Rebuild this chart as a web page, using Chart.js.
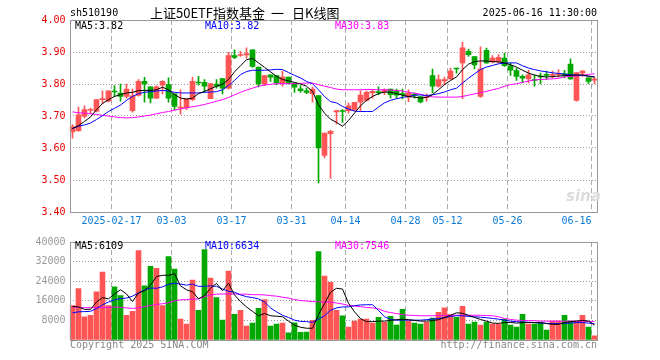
<!DOCTYPE html>
<html>
<head>
<meta charset="utf-8">
<script src="https://cdn.jsdelivr.net/npm/chart.js@4"></script>
<style>
  body { margin: 0; background: #fff; }
  #wrap { position: relative; width: 660px; height: 360px; overflow: hidden; }
  canvas { position: absolute; left: 0; }
  .lbl { position: absolute; font: 10px 'DejaVu Sans Mono', monospace; line-height: 12px; white-space: pre; }
  .cn { position: absolute; font: 13px 'Noto Sans CJK SC'; line-height: 16px; top: 5px; color: #000; white-space: pre; }
</style>
</head>
<body>
<div id="wrap">
  <canvas id="price" width="660" height="232" style="top:0"></canvas>
  <canvas id="vol" width="660" height="128" style="top:232px"></canvas>

  <div class="lbl" style="left:70px;top:7px;color:#000">sh510190</div>
  <div class="cn" style="left:150px">上证50ETF指数基金</div>
  <div class="cn" style="left:271px">一</div>
  <div class="cn" style="left:292px">日K线图</div>
  <div class="lbl" style="right:63px;top:7px;color:#000">2025-06-16 11:30:00</div>

  <div class="lbl" style="left:75px;top:20px;color:#000">MA5:3.82</div>
  <div class="lbl" style="left:205px;top:20px;color:#0000ff">MA10:3.82</div>
  <div class="lbl" style="left:335px;top:20px;color:#ff00ff">MA30:3.83</div>

  <div class="lbl" style="left:566px;top:188px;font:italic bold 15px 'DejaVu Sans';line-height:16px;color:#dcdcdc">sina</div>

  <div class="lbl" style="left:75px;top:240px;color:#000">MA5:6109</div>
  <div class="lbl" style="left:205px;top:240px;color:#0000ff">MA10:6634</div>
  <div class="lbl" style="left:335px;top:240px;color:#ff00ff">MA30:7546</div>

  <div class="lbl" style="left:70px;top:339px;color:#888">Copyright 2025 SINA.COM</div>
  <div class="lbl" style="right:63px;top:339px;color:#888">http://finance.sina.com.cn</div>
</div>
<script>
// 日期 (交易日)
const dates = ['02-06','02-07','02-10','02-11','02-12','02-13','02-14','02-17','02-18','02-19',
  '02-20','02-21','02-24','02-25','02-26','02-27','02-28','03-03','03-04','03-05',
  '03-06','03-07','03-10','03-11','03-12','03-13','03-14','03-17','03-18','03-19',
  '03-20','03-21','03-24','03-25','03-26','03-27','03-28','03-31','04-01','04-02',
  '04-03','04-07','04-08','04-09','04-10','04-11','04-14','04-15','04-16','04-17',
  '04-18','04-21','04-22','04-23','04-24','04-25','04-28','04-29','04-30','05-06',
  '05-07','05-08','05-09','05-12','05-13','05-14','05-15','05-16','05-19','05-20',
  '05-21','05-22','05-23','05-26','05-27','05-28','05-29','05-30','06-03','06-04',
  '06-05','06-06','06-09','06-10','06-11','06-12','06-13','06-16'];

const tickDates  = ['02-17','03-03','03-17','03-31','04-14','04-28','05-12','05-26','06-16'];
const tickLabels = ['2025-02-17','03-03','03-17','03-31','04-14','04-28','05-12','05-26','06-16     '];

const open = [3.650,3.654,3.699,3.718,3.715,3.751,3.746,3.777,3.772,3.761,
  3.717,3.764,3.808,3.791,3.756,3.796,3.798,3.769,3.725,3.725,
  3.751,3.805,3.805,3.754,3.800,3.817,3.787,3.889,3.889,3.891,
  3.907,3.853,3.800,3.829,3.826,3.801,3.822,3.803,3.785,3.779,
  3.770,3.764,3.577,3.645,3.713,3.716,3.717,3.720,3.743,3.749,
  3.772,3.775,3.775,3.784,3.777,3.769,3.759,3.767,3.761,3.757,
  3.826,3.793,3.810,3.816,3.850,3.866,3.902,3.886,3.761,3.905,
  3.869,3.869,3.881,3.857,3.842,3.824,3.816,3.814,3.824,3.829,
  3.827,3.829,3.832,3.862,3.749,3.834,3.819,3.812];
const high = [3.673,3.728,3.732,3.725,3.751,3.779,3.779,3.795,3.800,3.800,
  3.784,3.814,3.821,3.791,3.795,3.811,3.819,3.769,3.782,3.754,
  3.821,3.824,3.814,3.801,3.814,3.817,3.900,3.907,3.902,3.913,
  3.907,3.853,3.826,3.829,3.826,3.840,3.822,3.803,3.795,3.787,
  3.790,3.764,3.647,3.655,3.717,3.720,3.740,3.743,3.779,3.779,
  3.782,3.791,3.785,3.784,3.784,3.784,3.782,3.772,3.761,3.769,
  3.847,3.829,3.822,3.850,3.850,3.930,3.909,3.886,3.916,3.912,
  3.889,3.892,3.897,3.866,3.850,3.829,3.843,3.829,3.834,3.840,
  3.840,3.845,3.843,3.879,3.836,3.843,3.819,3.821];
const low = [3.631,3.652,3.694,3.707,3.713,3.738,3.744,3.761,3.746,3.756,
  3.712,3.762,3.743,3.741,3.754,3.769,3.743,3.720,3.706,3.720,
  3.748,3.796,3.774,3.754,3.787,3.769,3.784,3.879,3.886,3.881,
  3.852,3.791,3.795,3.808,3.798,3.793,3.800,3.774,3.774,3.770,
  3.743,3.491,3.569,3.505,3.675,3.680,3.709,3.717,3.714,3.746,
  3.756,3.767,3.767,3.756,3.756,3.753,3.745,3.756,3.741,3.746,
  3.772,3.790,3.798,3.814,3.834,3.754,3.886,3.847,3.758,3.864,
  3.866,3.866,3.855,3.827,3.811,3.803,3.803,3.793,3.800,3.814,
  3.819,3.821,3.819,3.814,3.746,3.824,3.801,3.801];
const close = [3.666,3.704,3.720,3.720,3.751,3.753,3.779,3.775,3.761,3.784,
  3.763,3.808,3.800,3.756,3.791,3.808,3.756,3.730,3.727,3.754,
  3.808,3.803,3.793,3.801,3.793,3.787,3.889,3.883,3.892,3.895,
  3.855,3.800,3.826,3.821,3.803,3.822,3.803,3.790,3.779,3.774,
  3.784,3.600,3.647,3.652,3.717,3.714,3.732,3.743,3.765,3.774,
  3.777,3.773,3.782,3.767,3.765,3.767,3.772,3.765,3.744,3.759,
  3.793,3.814,3.814,3.840,3.847,3.913,3.892,3.860,3.847,3.866,
  3.881,3.883,3.857,3.843,3.824,3.818,3.829,3.811,3.822,3.827,
  3.829,3.831,3.827,3.816,3.836,3.840,3.808,3.814];

// 均线
const ma5 = [3.661,3.670,3.683,3.697,3.720,3.739,3.751,3.761,3.767,3.772,
  3.774,3.779,3.780,3.780,3.782,3.790,3.782,3.767,3.756,3.753,
  3.756,3.770,3.777,3.785,3.793,3.799,3.814,3.838,3.857,3.876,
  3.880,3.866,3.852,3.838,3.824,3.814,3.810,3.805,3.800,3.793,
  3.777,3.735,3.709,3.690,3.680,3.668,3.686,3.709,3.732,3.749,
  3.761,3.770,3.775,3.774,3.770,3.765,3.761,3.759,3.756,3.758,
  3.767,3.782,3.798,3.811,3.822,3.845,3.862,3.870,3.872,3.872,
  3.870,3.869,3.866,3.860,3.853,3.843,3.834,3.828,3.824,3.822,
  3.823,3.825,3.826,3.827,3.828,3.828,3.825,3.821];
const ma10 = [3.661,3.668,3.672,3.678,3.689,3.701,3.714,3.724,3.734,3.749,
  3.761,3.770,3.774,3.776,3.778,3.780,3.778,3.774,3.772,3.772,
  3.772,3.772,3.774,3.775,3.776,3.782,3.795,3.811,3.829,3.839,
  3.843,3.843,3.843,3.844,3.846,3.845,3.836,3.827,3.819,3.808,
  3.801,3.782,3.761,3.745,3.741,3.730,3.722,3.715,3.714,3.714,
  3.714,3.728,3.741,3.749,3.754,3.758,3.761,3.765,3.766,3.764,
  3.766,3.770,3.775,3.782,3.787,3.803,3.818,3.832,3.845,3.853,
  3.858,3.863,3.865,3.866,3.866,3.857,3.850,3.845,3.841,3.838,
  3.835,3.833,3.831,3.829,3.828,3.827,3.824,3.823];
const ma30 = [3.713,3.710,3.709,3.707,3.705,3.702,3.700,3.697,3.695,3.694,
  3.695,3.697,3.700,3.703,3.707,3.711,3.714,3.718,3.722,3.726,
  3.729,3.732,3.736,3.741,3.746,3.751,3.758,3.766,3.774,3.781,
  3.787,3.793,3.797,3.799,3.801,3.801,3.801,3.801,3.802,3.803,
  3.803,3.798,3.793,3.789,3.784,3.782,3.782,3.782,3.782,3.783,
  3.783,3.782,3.782,3.781,3.780,3.778,3.774,3.771,3.768,3.762,
  3.760,3.759,3.759,3.759,3.759,3.761,3.765,3.769,3.773,3.777,
  3.782,3.786,3.793,3.798,3.801,3.805,3.809,3.813,3.814,3.815,
  3.816,3.818,3.822,3.824,3.825,3.827,3.830,3.832];

// 成交量
const volume = [14100,21000,9500,10100,19700,27700,14100,21700,18100,10100,
  11700,36500,22100,30100,29300,14100,34100,28900,8500,6500,
  24500,12100,36900,25300,17300,8100,28100,10500,12100,5700,
  6900,12900,16500,5700,6500,6900,2900,7000,3100,3200,
  8000,36100,26100,23500,12100,9900,5300,7700,8500,8500,
  6900,9300,7200,9700,6100,12500,7700,6900,6500,7200,
  8900,11300,13100,10400,9300,13700,6500,7300,6100,7300,
  6500,6500,8500,6100,5300,10500,6500,6500,6900,4100,
  7700,7700,10100,7700,7700,10100,5300,1700];
const vma5 = [13700,13500,12500,12500,15500,17300,16800,18800,20500,18800,
  15700,19200,20100,22400,25900,26400,26400,27100,22100,20500,
  19700,16800,18100,21100,23100,20100,23200,18400,15700,13500,
  11700,9900,10800,9900,9700,9500,7700,6100,5200,4800,
  4800,10400,14800,19500,21100,20800,15000,11500,8700,7500,
  7500,7700,7700,8000,8300,8500,8300,8000,7700,7700,
  7900,8300,9100,10100,11100,10900,10100,9200,8400,7700,
  6900,6800,7100,7200,6900,7100,7200,7100,7200,6700,
  6400,6400,7100,7500,7700,8000,7700,6109];
const vma10 = [11100,11500,11600,11700,12800,14400,15500,16400,16900,17100,
  17900,19200,20400,21200,21100,21700,22700,23200,22800,22400,
  22800,21900,21900,22100,21900,20800,19900,19500,18400,17700,
  17300,16800,15500,13100,11500,10100,9200,8100,7600,7500,
  7200,8500,9900,12100,13100,13500,13500,14000,14300,14400,
  14400,12100,9500,8400,8100,8100,8100,8100,8100,8300,
  8500,8800,9200,9600,9900,9900,9600,9500,9300,9100,
  8800,8500,8100,7700,7500,7300,7200,7100,6900,6800,
  6700,6700,6800,6900,7100,7100,6900,6634];
const vma30 = [13500,13300,13200,13200,13200,13200,13300,13500,13300,13100,
  12900,13100,13600,14100,14500,14800,15200,16000,16400,16500,
  16700,16800,17700,18400,18700,18800,18800,18800,18700,18700,
  18500,18500,18400,18100,17900,17500,17100,16500,16100,15900,
  15700,15600,15500,15500,15100,14700,14100,13900,13600,13300,
  13100,12700,11700,11200,10800,10400,10100,10000,9900,9900,
  9900,10000,10000,10100,10100,10100,10100,10100,10100,10000,
  9900,9500,8800,8400,8100,8000,7900,7900,7700,7700,
  7700,7700,7700,7700,7700,7700,7600,7546];

const UP = '#ff5555', DOWN = '#00a800';
const colors = dates.map((d, i) => close[i] >= open[i] ? UP : DOWN);

Chart.defaults.font.family = "'DejaVu Sans Mono', monospace";
Chart.defaults.font.size = 10;

// 外框
const frame = {
  id: 'frame',
  afterDraw(chart) {
    const a = chart.chartArea, c = chart.ctx;
    c.save();
    c.strokeStyle = '#999';
    c.lineWidth = 1;
    const l = Math.ceil(a.left), r = Math.floor(a.right), t = Math.round(a.top), b = Math.round(a.bottom);
    c.strokeRect(l + 0.5, t + 0.5, r - l, b - t);
    c.restore();
  }
};

const isTick = i => tickDates.indexOf(dates[i]) >= 0;

function xScale(showLabels) {
  return {
    offset: true,
    grid: {
      offset: true,
      drawTicks: false,
      color: ctx => isTick(ctx.index) ? '#aaa' : 'rgba(0,0,0,0)'
    },
    border: { display: false, dash: [5, 3] },
    ticks: {
      display: showLabels,
      autoSkip: false,
      maxRotation: 0,
      padding: 3,
      labelOffset: -3,
      color: '#0a7ad6',
      callback: (v, i) => {
        const k = tickDates.indexOf(dates[i]);
        return k >= 0 ? tickLabels[k] : '';
      }
    },
    afterFit: s => { s.height = 20; }
  };
}

function maLine(data, color) {
  return { type: 'line', data: data, borderColor: color, borderWidth: 1,
    pointRadius: 0, tension: 0, fill: false, order: 0 };
}

new Chart(document.getElementById('price'), {
  type: 'bar',
  data: {
    labels: dates,
    datasets: [
      maLine(ma5, '#000000'),
      maLine(ma10, '#0000ff'),
      maLine(ma30, '#ff00ff'),
      { data: dates.map((d, i) => [open[i], close[i]]), backgroundColor: colors,
        barThickness: 5, minBarLength: 1, grouped: false, order: 1 },
      { data: dates.map((d, i) => [low[i], high[i]]), backgroundColor: colors,
        barThickness: 1, grouped: false, order: 2 }
    ]
  },
  options: {
    responsive: false,
    animation: false,
    events: [],
    plugins: { legend: { display: false }, tooltip: { enabled: false } },
    layout: { padding: { top: 20, right: 62.5, left: 0, bottom: 0 } },
    scales: {
      x: xScale(true),
      y: {
        min: 3.4, max: 4.0,
        grid: {
          drawTicks: false,
          color: ctx => (ctx.tick.value > 3.41 && ctx.tick.value < 3.99) ? '#999' : 'rgba(0,0,0,0)'
        },
        border: { display: false, dash: [1, 2] },
        ticks: { stepSize: 0.1, padding: 4, color: '#e60000', callback: v => v.toFixed(2) },
        afterFit: s => { s.width = 69.5; }
      }
    }
  },
  plugins: [frame]
});

new Chart(document.getElementById('vol'), {
  type: 'bar',
  data: {
    labels: dates,
    datasets: [
      maLine(vma5, '#000000'),
      maLine(vma10, '#0000ff'),
      maLine(vma30, '#ff00ff'),
      { data: volume, backgroundColor: colors, barThickness: 5, grouped: false, order: 1 }
    ]
  },
  options: {
    responsive: false,
    animation: false,
    events: [],
    plugins: { legend: { display: false }, tooltip: { enabled: false } },
    layout: { padding: { top: 8, right: 62.5, left: 0, bottom: 0 } },
    scales: {
      x: xScale(false),
      y: {
        min: 0, max: 40000,
        grid: {
          drawTicks: false,
          color: ctx => (ctx.tick.value > 0 && ctx.tick.value < 40000) ? '#999' : 'rgba(0,0,0,0)'
        },
        border: { display: false, dash: [1, 2] },
        ticks: { stepSize: 8000, padding: 4, color: '#999', callback: v => v === 0 ? '' : v },
        afterFit: s => { s.width = 69.5; }
      }
    }
  },
  plugins: [frame]
});
</script>
</body>
</html>
